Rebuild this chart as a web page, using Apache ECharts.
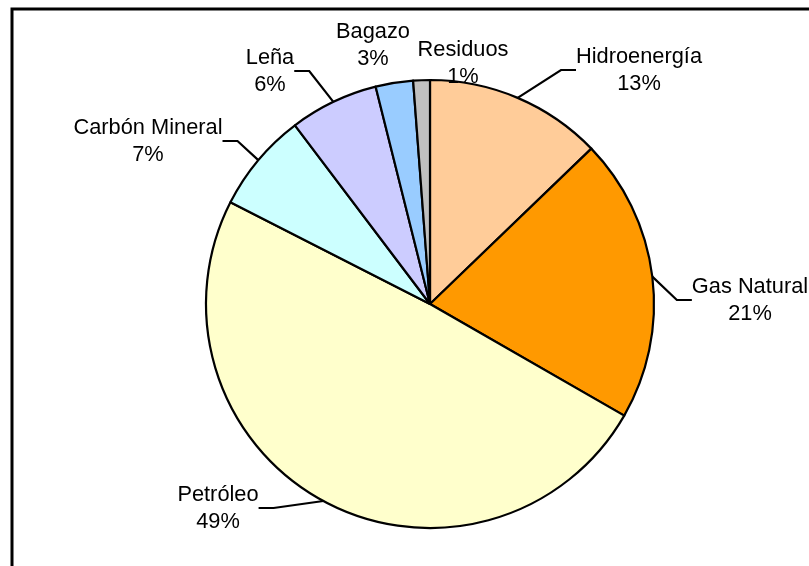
<!DOCTYPE html>
<html>
<head>
<meta charset="utf-8">
<script src="https://cdn.jsdelivr.net/npm/echarts@6/dist/echarts.min.js"></script>
<style>
html,body{margin:0;padding:0;background:#fff;}
#main{width:809px;height:566px;}
</style>
</head>
<body>
<div id="main"></div>
<script>
const categories = ['Hidroenergía', 'Gas Natural', 'Petróleo', 'Carbón Mineral', 'Leña', 'Bagazo', 'Residuos'];
const values = [12.8, 20.5, 49.2, 7.2, 6.4, 2.7, 1.2];
const colors = ['#FFCC99', '#FF9900', '#FFFFCC', '#CCFFFF', '#CCCCFF', '#99CCFF', '#C0C0C0'];
const showLeader = [true, true, true, true, true, false, false];

// label anchor positions (layout only)
const labelPos = [[639, 70], [750, 300], [218, 508], [148, 141], [270, 71], [373, 45], [463, 63]];

const chart = echarts.init(document.getElementById('main'), null, {renderer: 'canvas'});
const font = '"Liberation Sans", Arial, Helvetica, sans-serif';

chart.setOption({
  animation: false,
  backgroundColor: '#ffffff',
  graphic: [{
    type: 'rect',
    shape: {x: 12, y: 9, width: 830, height: 600},
    style: {fill: 'none', stroke: '#000', lineWidth: 3},
    z: 0
  }],
  series: [{
    type: 'pie',
    center: [430, 304],
    radius: 224,
    startAngle: 90,
    clockwise: true,
    avoidLabelOverlap: false,
    itemStyle: {borderColor: '#000', borderWidth: 2.2},
    label: {
      show: true,
      color: '#000',
      fontFamily: font,
      fontSize: 21.8,
      lineHeight: 27,
      align: 'center',
      formatter: p => p.name + '\n' + Math.round(p.percent) + '%'
    },
    labelLine: {show: true, lineStyle: {color: '#000', width: 2.2}, length: 15, length2: 15},
    labelLayout: p => ({
      x: labelPos[p.dataIndex][0],
      y: labelPos[p.dataIndex][1],
      align: 'center',
      verticalAlign: 'middle'
    }),
    emphasis: {disabled: true},
    data: categories.map((c, i) => ({
      name: c,
      value: values[i],
      itemStyle: {color: colors[i]},
      labelLine: {show: showLeader[i]}
    }))
  }]
});
</script>
</body>
</html>
